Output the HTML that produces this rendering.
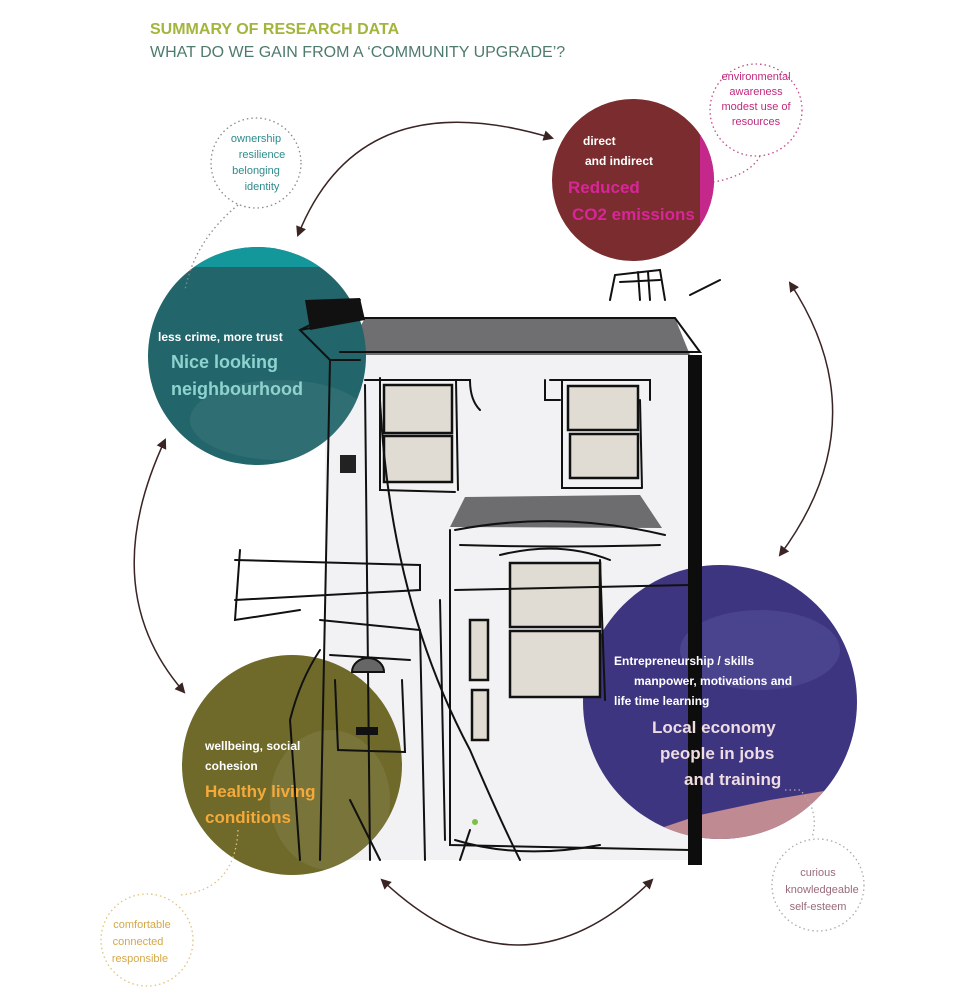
<!DOCTYPE html>
<html><head><meta charset="utf-8"><style>
html,body{margin:0;padding:0;background:#fff;}
svg{display:block;}
text{font-family:"Liberation Sans",sans-serif;}
</style></head><body>
<svg width="966" height="1000" viewBox="0 0 966 1000" xmlns="http://www.w3.org/2000/svg">
<defs>
<marker id="ah" viewBox="0 0 10 10" refX="8" refY="5" markerWidth="7" markerHeight="7" orient="auto-start-reverse">
<path d="M0,0 L10,5 L0,10 z" fill="#3a2424"/></marker>
<clipPath id="cT"><circle cx="257" cy="356" r="109"/></clipPath>
<clipPath id="cO"><circle cx="292" cy="765" r="110"/></clipPath>
<clipPath id="cP"><circle cx="720" cy="702" r="137"/></clipPath>
<clipPath id="cR"><circle cx="633" cy="180" r="81"/></clipPath>
</defs>

<text x="150" y="34" font-size="16" font-weight="bold" fill="#a3b53a">SUMMARY OF RESEARCH DATA</text>
<text x="150" y="57" font-size="16" fill="#4f7a6e">WHAT DO WE GAIN FROM A ‘COMMUNITY UPGRADE’?</text>

<rect x="325" y="350" width="368" height="510" fill="#f2f2f4"/>
<polygon points="365,318 675,318 690,355 345,355" fill="#6f6f72"/>
<polygon points="450,527 465,497 640,495 662,528" fill="#6d6d70"/>

<g clip-path="url(#cR)">
<rect x="550" y="98" width="170" height="170" fill="#7b2c2e"/>
<rect x="700" y="98" width="20" height="170" fill="#c4288a"/>
</g>
<g clip-path="url(#cT)">
<rect x="145" y="245" width="225" height="225" fill="#22656b"/>
<rect x="145" y="245" width="225" height="22" fill="#13979a"/>
<ellipse cx="280" cy="420" rx="90" ry="40" fill="#3b7a7b" opacity=".5"/>
</g>
<g clip-path="url(#cO)">
<rect x="180" y="653" width="225" height="225" fill="#6f6a2a"/>
<polygon points="180,653 245,653 195,700 180,740" fill="#f2c23c"/>
<ellipse cx="330" cy="800" rx="60" ry="70" fill="#8a8450" opacity=".4"/>
</g>
<g clip-path="url(#cP)">
<rect x="580" y="563" width="280" height="280" fill="#3d3580"/>
<polygon points="640,835 700,815 770,800 860,785 860,845 640,845" fill="#bf8a92"/>
<ellipse cx="760" cy="650" rx="80" ry="40" fill="#5a55a0" opacity=".45"/>
</g>

<g fill="#e0dcd4" stroke="#111" stroke-width="2.5">
<rect x="384" y="385" width="68" height="48"/>
<rect x="384" y="436" width="68" height="46"/>
<rect x="568" y="386" width="70" height="44"/>
<rect x="570" y="434" width="68" height="44"/>
<rect x="510" y="563" width="90" height="64"/>
<rect x="510" y="631" width="90" height="66"/>
<rect x="470" y="620" width="18" height="60"/>
<rect x="472" y="690" width="16" height="50"/>
</g>

<g fill="none" stroke="#111" stroke-width="2" stroke-linecap="round">
<path d="M300,330 L365,318 L675,318 L700,352 L340,352"/>
<path d="M365,380 L470,380 Q470,400 480,410 M365,385 L370,860"/>
<path d="M380,378 L380,490 L455,492 M456,380 L458,490"/>
<path d="M550,380 L650,380 L650,400 M545,380 L545,400 L560,400 M562,380 L562,488 L642,488 M640,400 L642,488"/>
<path d="M330,360 L320,860 M235,560 L420,565 L420,590 L235,600"/>
<path d="M320,620 L420,630 L425,860 M330,655 L410,660"/>
<path d="M450,530 L450,845 L690,850 M455,590 L690,585 M455,530 Q560,510 665,535"/>
<path d="M500,555 Q560,540 610,560 M460,545 Q560,548 660,545"/>
<path d="M380,400 Q390,600 470,750 Q500,820 520,860"/>
<path d="M440,600 L445,840 M600,560 L605,700"/>
<path d="M300,860 L290,720 Q300,680 320,650 M350,800 L380,860"/>
<path d="M360,300 L300,330 L330,360 L360,360"/>
<path d="M610,300 L615,275 L660,270 L665,300 M690,295 L720,280"/>
<path d="M620,282 L660,280 M638,272 L640,300 M648,272 L650,300"/>
<path d="M455,840 Q520,860 600,845 M470,830 L460,860"/>
<path d="M240,550 L235,620 L300,610"/>
<path d="M335,680 L338,750 L405,752 L402,680"/>
</g>
<path d="M305,300 L360,298 L365,320 L310,330 Z" fill="#111"/>
<rect x="340" y="455" width="16" height="18" fill="#222"/>
<path d="M352,672 A16,14 0 0 1 384,672 Z" fill="#666" stroke="#111" stroke-width="2"/>
<rect x="356" y="727" width="22" height="8" fill="#111"/>
<rect x="688" y="355" width="14" height="510" fill="#0d0d0d"/>
<circle cx="475" cy="822" r="3" fill="#7bc043"/>

<text x="583" y="145" font-size="12" font-weight="bold" fill="#fff">direct</text>
<text x="585" y="165" font-size="12" font-weight="bold" fill="#fff">and indirect</text>
<text x="568" y="193" font-size="17" font-weight="bold" fill="#d9259a">Reduced</text>
<text x="572" y="220" font-size="17" font-weight="bold" fill="#d9259a">CO2 emissions</text>

<text x="158" y="341" font-size="12" font-weight="bold" fill="#fff">less crime, more trust</text>
<text x="171" y="368" font-size="18" font-weight="bold" fill="#8fd3d0">Nice looking</text>
<text x="171" y="395" font-size="18" font-weight="bold" fill="#8fd3d0">neighbourhood</text>

<text x="205" y="750" font-size="12" font-weight="bold" fill="#fff">wellbeing, social</text>
<text x="205" y="770" font-size="12" font-weight="bold" fill="#fff">cohesion</text>
<text x="205" y="797" font-size="17" font-weight="bold" fill="#f4a93a">Healthy living</text>
<text x="205" y="823" font-size="17" font-weight="bold" fill="#f4a93a">conditions</text>

<text x="614" y="665" font-size="12" font-weight="bold" fill="#fff">Entrepreneurship / skills</text>
<text x="634" y="685" font-size="12" font-weight="bold" fill="#fff">manpower, motivations and</text>
<text x="614" y="705" font-size="12" font-weight="bold" fill="#fff">life time learning</text>
<text x="652" y="733" font-size="17" font-weight="bold" fill="#eedce0">Local economy</text>
<text x="660" y="759" font-size="17" font-weight="bold" fill="#eedce0">people in jobs</text>
<text x="684" y="785" font-size="17" font-weight="bold" fill="#eedce0">and training</text>

<g fill="none" stroke-width="1.3" stroke-dasharray="1.5 3">
<circle cx="256" cy="163" r="45" stroke="#888"/>
<circle cx="756" cy="110" r="46" stroke="#c04a8a"/>
<circle cx="147" cy="940" r="46" stroke="#e2c27a"/>
<circle cx="818" cy="885" r="46" stroke="#aaa"/>
<path d="M238,205 Q195,240 185,290" stroke="#888"/>
<path d="M760,156 Q750,175 714,182" stroke="#c04a8a"/>
<path d="M238,830 Q235,890 180,895" stroke="#e2c27a"/>
<path d="M785,790 L800,790 Q820,810 812,838" stroke="#aaa"/>
</g>
<text x="256" y="142" font-size="11" fill="#2e8c8c" text-anchor="middle">ownership</text>
<text x="262" y="158" font-size="11" fill="#2e8c8c" text-anchor="middle">resilience</text>
<text x="256" y="174" font-size="11" fill="#2e8c8c" text-anchor="middle">belonging</text>
<text x="262" y="190" font-size="11" fill="#2e8c8c" text-anchor="middle">identity</text>
<text x="756" y="80" font-size="11" fill="#c0297e" text-anchor="middle">environmental</text>
<text x="756" y="95" font-size="11" fill="#c0297e" text-anchor="middle">awareness</text>
<text x="756" y="110" font-size="11" fill="#c0297e" text-anchor="middle">modest use of</text>
<text x="756" y="125" font-size="11" fill="#c0297e" text-anchor="middle">resources</text>
<text x="142" y="928" font-size="11" fill="#d4a84a" text-anchor="middle">comfortable</text>
<text x="138" y="945" font-size="11" fill="#d4a84a" text-anchor="middle">connected</text>
<text x="140" y="962" font-size="11" fill="#d4a84a" text-anchor="middle">responsible</text>
<text x="818" y="876" font-size="11" fill="#9a6b7a" text-anchor="middle">curious</text>
<text x="822" y="893" font-size="11" fill="#9a6b7a" text-anchor="middle">knowledgeable</text>
<text x="818" y="910" font-size="11" fill="#9a6b7a" text-anchor="middle">self-esteem</text>

<g fill="none" stroke="#3a2424" stroke-width="1.5" marker-start="url(#ah)" marker-end="url(#ah)">
<path d="M298,235 Q360,80 552,138"/>
<path d="M790,283 Q880,420 780,555"/>
<path d="M165,440 Q95,590 184,692"/>
<path d="M382,880 Q520,1010 652,880"/>
</g>
</svg>
</body></html>
